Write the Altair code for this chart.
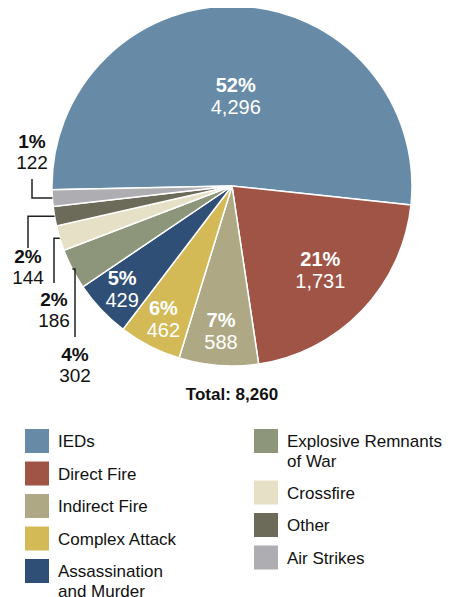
import math
import altair as alt
import pandas as pd

# ---------------- data ----------------
categories = ["IEDs", "Direct Fire", "Indirect Fire", "Complex Attack",
              "Assassination and Murder", "Explosive Remnants of War",
              "Crossfire", "Other", "Air Strikes"]
legend_labels = ["IEDs", "Direct Fire", "Indirect Fire", "Complex Attack",
                 "Assassination\nand Murder", "Explosive Remnants\nof War",
                 "Crossfire", "Other", "Air Strikes"]
values = [4296, 1731, 588, 462, 429, 302, 186, 144, 122]
colors = ["#678ba7", "#a05446", "#aea984", "#d3ba57", "#2f4f76",
          "#8d967a", "#e5e0c6", "#6c6a59", "#adadb2"]
outside = ["Explosive Remnants of War", "Crossfire", "Other", "Air Strikes"]

# ---------------- layout / style ----------------
FONT = "Liberation Sans"
W, H = 440, 589
CX, CY, R = 224, 178, 180
START_DEG = -91.2
# call-out layout (pixel offsets from pie centre): column x, leader end y, label y
callout_col = {"Explosive Remnants of War": -157, "Crossfire": -178, "Other": -204, "Air Strikes": -200}
callout_end = {"Explosive Remnants of War": 151, "Crossfire": 97, "Other": 62, "Air Strikes": -7}
callout_lab = {"Explosive Remnants of War": 169, "Crossfire": 114, "Other": 71, "Air Strikes": -44}
LEG_X = [29, 258]
LEG_Y0 = 433
LEG_ROW = 32.5
LEG_EXTRA = 19

total = sum(values)
pcts = [f"{round(100 * v / total)}%" for v in values]
vals = [f"{v:,}" for v in values]

pie_df = pd.DataFrame({
    "category": categories,
    "value": values,
    "idx": list(range(len(values))),
    "pct_in": [p if c not in outside else "" for p, c in zip(pcts, categories)],
    "val_in": [s if c not in outside else "" for s, c in zip(vals, categories)],
    "lab_r": [R * (1 - 0.7 * math.sqrt(v / total)) for v in values],
})

# mid-angles of slices (same stacking as the theta scale)
mids = {}
cum = 0
for c, v in zip(categories, values):
    a0 = START_DEG + 360 * cum / total
    cum += v
    a1 = START_DEG + 360 * cum / total
    mids[c] = math.radians((a0 + a1) / 2)

lead_rows, lab_rows = [], []
for c in outside:
    m = mids[c]
    px, py = CX + R * math.sin(m), CY - R * math.cos(m)
    colx = CX + callout_col[c]
    lead_rows += [
        {"category": c, "step": 0, "x": px, "y": py},
        {"category": c, "step": 1, "x": colx, "y": py},
        {"category": c, "step": 2, "x": colx, "y": CY + callout_end[c]},
    ]
    i = categories.index(c)
    lab_rows.append({"category": c, "x": colx, "y": CY + callout_lab[c],
                     "pct": pcts[i], "val": vals[i]})
lead_df = pd.DataFrame(lead_rows)
lab_df = pd.DataFrame(lab_rows)

# legend positions: two columns, column-major
leg_rows = []
cols = [categories[:5], categories[5:]]
for ci, col in enumerate(cols):
    y = LEG_Y0
    for c in col:
        lbl = legend_labels[categories.index(c)]
        leg_rows.append({"category": c, "label": lbl, "x": LEG_X[ci], "y": y,
                         "tx": LEG_X[ci] + 21, "ty": y + 6})
        y += LEG_ROW + LEG_EXTRA * lbl.count("\n")
leg_df = pd.DataFrame(leg_rows)

color_scale = alt.Scale(domain=categories, range=colors)

theta = alt.Theta("value:Q", stack=True,
                  scale=alt.Scale(range=[math.radians(START_DEG), math.radians(START_DEG + 360)]))
order = alt.Order("idx:Q", sort="ascending")
base = alt.Chart(pie_df).encode(theta=theta, order=order, detail="category:N")

arcs = base.mark_arc(radius=R, stroke="white", strokeWidth=1.5).encode(
    color=alt.Color("category:N", scale=color_scale, legend=None),
    x=alt.value(CX), y=alt.value(CY))

in_pct = base.mark_text(font=FONT, fontSize=20, fontWeight="bold", color="white", dy=-11,
                        radius=alt.expr("datum.lab_r")).encode(
    text="pct_in:N", x=alt.value(CX), y=alt.value(CY))
in_val = base.mark_text(font=FONT, fontSize=20, color="white", dy=11,
                        radius=alt.expr("datum.lab_r")).encode(
    text="val_in:N", x=alt.value(CX), y=alt.value(CY))

leaders = alt.Chart(lead_df).mark_line(color="#222222", strokeWidth=1.5, strokeCap="butt").encode(
    x=alt.X("x:Q", scale=None), y=alt.Y("y:Q", scale=None),
    detail="category:N", order="step:Q")

out_pct = alt.Chart(lab_df).mark_text(font=FONT, fontSize=19, fontWeight="bold", color="#111111").encode(
    x=alt.X("x:Q", scale=None), y=alt.Y("y:Q", scale=None), text="pct:N")
out_val = alt.Chart(lab_df).mark_text(font=FONT, fontSize=19, color="#111111", dy=21).encode(
    x=alt.X("x:Q", scale=None), y=alt.Y("y:Q", scale=None), text="val:N")

total_txt = alt.Chart(pd.DataFrame({"t": [f"Total: {total:,}"]})).mark_text(
    font=FONT, fontSize=17, fontWeight="bold", color="#111111").encode(
    text="t:N", x=alt.value(CX), y=alt.value(387))

leg_sq = alt.Chart(leg_df).mark_square(size=576, opacity=1).encode(
    x=alt.X("x:Q", scale=None), y=alt.Y("y:Q", scale=None),
    color=alt.Color("category:N", scale=color_scale, legend=None))
leg_tx = alt.Chart(leg_df).mark_text(font=FONT, fontSize=17, align="left", baseline="alphabetic",
                                     lineBreak="\n", lineHeight=20, color="#111111").encode(
    x=alt.X("tx:Q", scale=None), y=alt.Y("ty:Q", scale=None), text="label:N")

chart = alt.layer(arcs, in_pct, in_val, leaders, out_pct, out_val, total_txt, leg_sq, leg_tx).properties(
    width=W, height=H, padding=0, autosize="none"
).configure_view(stroke=None)

chart.save("out.html", embed_options={"renderer": "svg", "actions": False})
